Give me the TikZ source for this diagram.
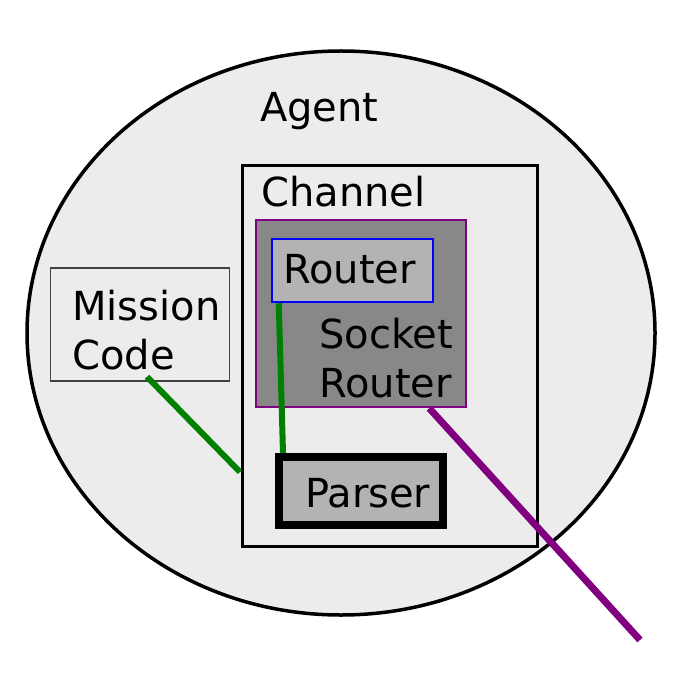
\documentclass[tikz,border=0pt]{standalone}
\usepackage{fontspec}
\setmainfont{DejaVu Sans}
\usepackage{tikz}
\usetikzlibrary{shapes.geometric}
\definecolor{agentfill}{HTML}{ECECEC}
\definecolor{sockfill}{HTML}{888888}
\definecolor{partfill}{HTML}{B3B3B3}
\definecolor{linkgreen}{HTML}{008000}
\definecolor{linkpurple}{HTML}{800080}
\definecolor{linkblue}{HTML}{0000FF}

\begin{document}
\begin{tikzpicture}[
  x=1pt, y=-1pt,
  font=\fontsize{40}{49}\selectfont,
  box/.style={rectangle, inner sep=0pt},
  label/.style={inner sep=0pt, anchor=base west, align=left},
  greenlink/.style={draw=linkgreen, line width=6pt},
  purplelink/.style={draw=linkpurple, line width=7pt}
]
\useasboundingbox (0,0) rectangle (700,700);

% outer agent
\node[ellipse, draw=black, line width=3.5pt, fill=agentfill, inner sep=0pt,
      minimum width=628pt, minimum height=564pt] (agent) at (341,333) {};
\node[label] (agenttxt) at (260,122) {Agent};

% channel and its parts
\node[box, draw=black, line width=3pt, minimum width=295pt, minimum height=380pt] (channel) at (389.5,356) {};
\node[label] (channeltxt) at (261,207) {Channel};

\node[box, draw=linkpurple, line width=2.5pt, fill=sockfill, minimum width=210pt, minimum height=187pt] (socket) at (361,313.5) {};
\node[label] (sockettxt) at (319,397) {Socket\\Router};

\node[box, draw=linkblue, line width=2.5pt, fill=partfill, minimum width=161pt, minimum height=63pt] (router) at (352.5,270.5) {};
\node[label] (routertxt) at (283,283) {Router};

\node[box, draw=black, line width=8pt, fill=partfill, minimum width=164pt, minimum height=68pt] (parser) at (361,491) {};
\node[label] (parsertxt) at (305,507) {Parser};

% mission code
\node[box, draw=black!75, line width=1.5pt, minimum width=179pt, minimum height=113pt] (mission) at (140,324.5) {};
\node[label] (missiontxt) at (72,369) {Mission\\Code};

\coordinate (mcend) at (240,472);
\coordinate (outside) at (640,640);

\draw[greenlink] ([xshift=7pt,yshift=5pt]mission.south) -- (mcend);
\draw[greenlink] ([xshift=8pt]router.south west) -- ([xshift=8pt]parser.north west);
\draw[purplelink] ([xshift=-38pt]socket.south east) -- (outside);

\end{tikzpicture}
\end{document}
